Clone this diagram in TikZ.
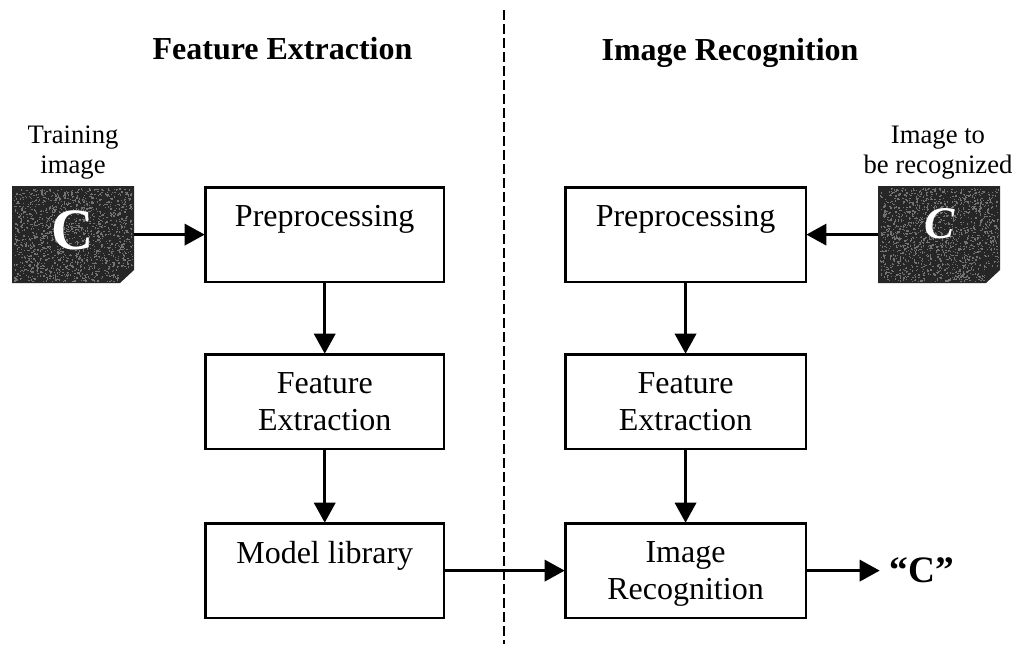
\documentclass[tikz,border=0pt]{standalone}
\usepackage{fontspec}
\setmainfont{Liberation Serif}
\usetikzlibrary{arrows.meta}
\tikzset{
 boxn/.style={draw=black,line width=1.9pt,inner sep=0pt,align=center,font=\fontsize{24}{28.2}\selectfont,anchor=north west,minimum width=179.2pt,minimum height=71pt},
 boxr/.style={boxn,minimum width=180.4pt},
 conn/.style={draw=black,line width=1.9pt,-{Triangle[length=15pt,width=16pt]},shorten >=-0.5pt},
 ttl/.style={font=\fontsize{24}{26}\selectfont\bfseries,anchor=base,inner sep=0pt},
 lab/.style={font=\fontsize{20}{22.5}\selectfont,align=center},
 img/.style={fill=black!85,draw=none},
 speck/.style={fill=black!55,draw=none}
}
\newcommand{\specks}[2]{%
 \foreach \k in {1,...,1500}{%
  \pgfmathsetmacro{\sx}{#1+2+118*rnd}%
  \pgfmathsetmacro{\sy}{#2+2+(\sx>#1+106?80:93)*rnd}%
  \fill[speck] (\sx,\sy) rectangle ++(1.3,1.3);
 }}
\begin{document}
\begin{tikzpicture}[x=0.75pt,y=-0.75pt]
\pgfmathsetseed{7}
\useasboundingbox (0,0) rectangle (1017,644);
\fill[white] (0,0) rectangle (1017,644);
\draw[black,line width=2pt,dash pattern=on 7.5pt off 3pt] (504,10) -- (504,644);
\node[ttl] (t1) at (282.5,59) {Feature Extraction};
\node[ttl] (t2) at (730,60) {Image Recognition};
\node[lab] (l1) at (73,153) {Training\\image};
\node[lab] (l2) at (938,153) {Image to\\be recognized};
\fill[img] (12,186) -- (134,186) -- (134,270) -- (120,283) -- (12,283) -- cycle;
\fill[img] (878,186) -- (1000,186) -- (1000,270) -- (986,283) -- (878,283) -- cycle;
\specks{12}{186}
\specks{878}{186}
\node[text=white,font=\fontsize{44}{46}\selectfont\bfseries] (c1) at (73,230) {C};
\node[text=white,font=\fontsize{34}{36}\selectfont\bfseries\itshape] (c2) at (940,224) {C};
\node[boxn] (a1) at (204,186) {Preprocessing\\[-9pt]\strut};
\node[boxr] (b1) at (564,186) {Preprocessing\\[-9pt]\strut};
\node[boxn] (a2) at (204,353) {Feature\\Extraction};
\node[boxr] (b2) at (564,353) {Feature\\Extraction};
\node[boxn] (a3) at (204,522) {Model library\\[-9pt]\strut};
\node[boxr] (b3) at (564,522) {\rule{0pt}{21pt}Image\\Recognition};
\coordinate (ilx) at (134,0);
\coordinate (irx) at (878,0);
\coordinate (qx) at (879,0);
\coordinate (i1) at (ilx |- a1.west);
\coordinate (i2) at (irx |- b1.east);
\node[font=\fontsize{28}{30}\selectfont\bfseries,anchor=west,inner sep=0pt,inner xsep=8pt] (q) at (qx |- b3.east) {“C”};
\draw[conn] (i1) -- (a1.west);
\draw[conn] (i2) -- (b1.east);
\draw[conn] (a1) -- (a2);
\draw[conn] (a2) -- (a3);
\draw[conn] (b1) -- (b2);
\draw[conn] (b2) -- (b3);
\draw[conn] (a3.east) -- (b3.west);
\draw[conn] (b3.east) -- (q.west);
\end{tikzpicture}
\end{document}
